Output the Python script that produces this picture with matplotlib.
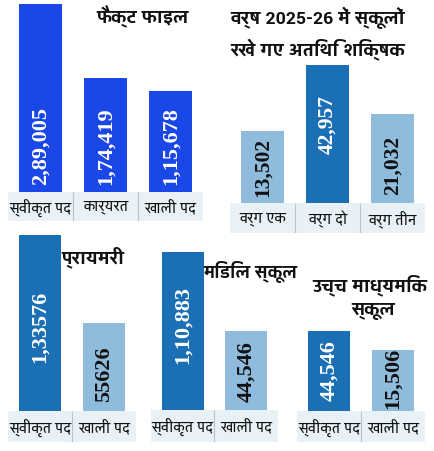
import matplotlib
matplotlib.use("Agg")
import matplotlib.pyplot as plt
from matplotlib import font_manager
from matplotlib.ft2font import FT2Font

cats1 = ["स्वीकृत पद", "कार्यरत", "खाली पद"]
vals1 = ["2,89,005", "1,74,419", "1,15,678"]
h1 = [100, 60.6, 53.7]

cats2 = ["वर्ग एक", "वर्ग दो", "वर्ग तीन"]
vals2 = ["13,502", "42,957", "21,032"]
h2 = [52.2, 100, 64.5]

cats3 = ["स्वीकृत पद", "खाली पद"]
vals3 = ["1,33576", "55626"]
h3 = [100, 50]

cats4 = ["स्वीकृत पद", "खाली पद"]
vals4 = ["1,10,883", "44,546"]
h4 = [100, 50]

cats5 = ["स्वीकृत पद", "खाली पद"]
vals5 = ["44,546", "15,506"]
h5 = [100, 76]

# find a font that has devanagari (the one with a bold face looks best)
deva_names = []
bold_deva = None
for f in font_manager.fontManager.ttflist:
    try:
        cm = FT2Font(f.fname).get_charmap()
    except Exception:
        continue
    if 0x0915 in cm:
        deva_names.append(f.name)
        if f.weight in ("bold", 700, "heavy", 800, 900, "black"):
            bold_deva = f.name
deva = bold_deva or (deva_names[0] if deva_names else None)
fam = [deva, "DejaVu Sans"] if deva else ["DejaVu Sans"]
plt.rcParams["font.family"] = fam

W, H = 435, 452
fig = plt.figure(figsize=(4.35, 4.52), dpi=100)
fig.patch.set_facecolor("white")

BRIGHT = "#1a47e8"
DARK = "#1b70b5"
LIGHT = "#8fbbdc"
STRIP = "#e8f1f6"


def panel(box, base, cats, vals, heights, colors, tcolors, ty, fs=16):
    x0, y0, x1, y1 = box
    ax = fig.add_axes([x0 / W, (H - y1) / H, (x1 - x0) / W, (y1 - y0) / H])
    n = len(cats)
    bot = -(y1 - base) / (base - y0) * 100
    ax.set_xlim(-0.5, n - 0.5)
    ax.set_ylim(bot, 100)
    ax.axhspan(bot, 0, color=STRIP, lw=0)
    ax.bar(range(n), heights, width=0.66, color=colors, zorder=2)
    for i in range(n):
        ax.text(i, ty[i], vals[i], rotation=90, ha="center", va="bottom",
                color=tcolors[i], fontsize=fs, fontweight="bold",
                family="Liberation Serif", zorder=3)
        ax.text(i, bot / 2, cats[i], ha="center", va="center", fontsize=11,
                color="#111111", family=fam)
    for i in range(n - 1):
        ax.vlines(i + 0.5, bot, 0, color="#b9c3cb", lw=0.8)
    ax.axis("off")
    return ax


panel((8, 5, 203, 222), 193, cats1, vals1, h1, [BRIGHT] * 3, ["white"] * 3, [4.3, 4.3, 4.3])
panel((230, 66, 425, 234), 204, cats2, vals2, h2, [LIGHT, DARK, LIGHT],
      ["#111111", "white", "#111111"], [5, 36, 6.5], fs=15.5)
panel((8, 236, 136, 443), 412, cats3, vals3, h3, [DARK, LIGHT], ["white", "#111111"], [28, 5.7])
panel((151, 253, 278, 443), 411, cats4, vals4, h4, [DARK, LIGHT], ["white", "#111111"], [30, 5.7])
panel((297, 332, 425, 443), 412, cats5, vals5, h5, [DARK, LIGHT], ["white", "#111111"], [14, 4])


def title(x, y, s, ha="center", fs=14):
    fig.text(x / W, 1 - y / H, s, ha=ha, va="center", fontsize=fs,
             fontweight="bold", family=fam, color="#111111")


title(142, 17, "फैक्ट फाइल")
title(230, 18, "वर्ष 2025-26 में स्कूलों", ha="left")
title(230, 50, "रखे गए अतिथि शिक्षक", ha="left")
title(93, 257, "प्रायमरी")
title(250, 272, "मिडिल स्कूल", fs=13.5)
title(370, 285, "उच्च माध्यमिक")
title(373, 311, "स्कूल")

fig.savefig("out.png", dpi=100)
